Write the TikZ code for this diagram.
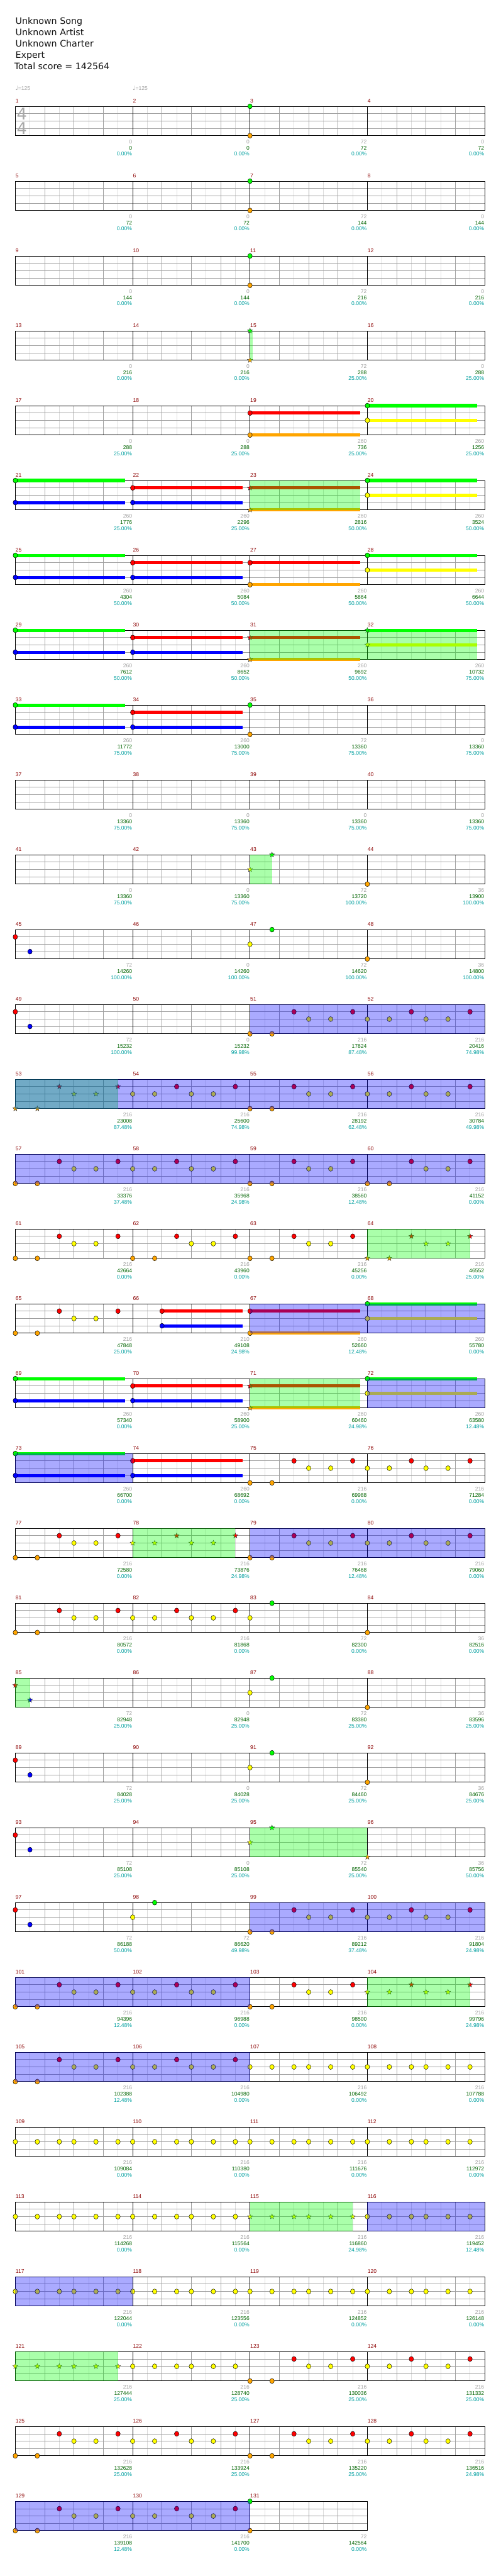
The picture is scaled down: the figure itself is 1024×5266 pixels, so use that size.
\documentclass[tikz,border=0pt]{standalone}
\usepackage{fontspec}
\setmainfont{DejaVu Sans}
\newfontfamily\labfont{Liberation Sans}
\usetikzlibrary{shapes.geometric}
\definecolor{L0}{HTML}{00FF00}
\definecolor{L1}{HTML}{FF0000}
\definecolor{L2}{HTML}{FFFF00}
\definecolor{L3}{HTML}{0000FF}
\definecolor{L4}{HTML}{FFA500}
\definecolor{mnumc}{HTML}{8B0000}
\definecolor{gnumc}{HTML}{A0A0A0}
\definecolor{snumc}{HTML}{006400}
\definecolor{pnumc}{HTML}{00A0A0}
\definecolor{lightgrid}{HTML}{DCDCDC}
\definecolor{midgrid}{HTML}{A0A0A0}
\definecolor{sigc}{HTML}{A8A8A8}
\definecolor{titlec}{HTML}{141414}
\tikzset{
  lab/.style={anchor=base east, inner sep=0pt, font=\labfont\fontsize{11}{11}\selectfont},
  mnum/.style={anchor=base west, inner sep=0pt, text=mnumc, font=\labfont\fontsize{11}{11}\selectfont},
  spstar/.style={star, star points=5, star point ratio=2.3, minimum size=11pt, inner sep=0pt, draw=black!80, line width=0.5pt},
  titletext/.style={anchor=base west, inner sep=0pt, text=titlec, font=\fontsize{18.3}{20}\selectfont},
  tempo/.style={anchor=base west, inner sep=0pt, text=gnumc},
}
\newcount\stc
\newcommand\Nt[2]{\filldraw[fill=L#2,draw=black,line width=0.6pt] ({(#1)*15},{#2*15}) ellipse [x radius=4.6, y radius=5.1];}
\newcommand\St[2]{\global\advance\stc by 1\relax\node[spstar,fill=L#2] (st\the\stc) at ({(#1)*15},{#2*15}) {};}
\newcommand\Su[3]{\fill[L#2] ({(#1)*15},{#2*15-3.3}) rectangle ++(#3,6.6);}
\newcommand\GO[2]{\fill[L0,opacity=0.333] (#1,0) rectangle (#2,60);}
\newcommand\BO[2]{\fill[L3,opacity=0.333] (#1,0) rectangle (#2,60);}
\newcommand\PatA[2][\Nt]{#1{#2}{4}#1{#2+3}{4}#1{#2+6}{1}#1{#2+8}{2}#1{#2+11}{2}#1{#2+14}{1}}
\newcommand\PatB[2][\Nt]{#1{#2}{2}#1{#2+3}{2}#1{#2+6}{1}#1{#2+8}{2}#1{#2+11}{2}#1{#2+14}{1}}
\newcommand\PatY[2][\Nt]{#1{#2}{2}#1{#2+3}{2}#1{#2+6}{2}#1{#2+8}{2}#1{#2+11}{2}#1{#2+14}{2}}
\newcommand\Staff[3]{%
  \foreach \i in {#2}{%
    \foreach \j in {1,3,5,7}{\draw[lightgrid,line width=0.8pt] (\i*240+\j*30,0) -- ++(0,60);}
    \foreach \j in {2,4,6}{\draw[midgrid,line width=0.8pt] (\i*240+\j*30,0) -- ++(0,60);}
    \pgfmathtruncatemacro\mm{4*#1+\i+1}
    \node[mnum] (mn\mm) at (\i*240+0.5,-7.3) {\mm};
  }
  \foreach \y in {15,30,45}{\draw[midgrid,line width=1.1pt] (0,\y) -- (#3*240,\y);}
  \foreach \i in {#2}{\ifnum\i>0 \draw[black,line width=0.8pt] (\i*240,0) -- ++(0,60);\fi}
  \draw[black,line width=1.3pt] (0,0) rectangle (#3*240,60);
}
\newcommand\Labels[2]{%
  \foreach \va/\vb/\vc [count=\cc] in {#2}{%
    \node[lab,text=gnumc] (ga#1-\cc) at (\cc*240-1,76) {\va};
    \node[lab,text=snumc] (gb#1-\cc) at (\cc*240-1,88.7) {\vb};
    \node[lab,text=pnumc] (gc#1-\cc) at (\cc*240-1,101.5) {\vc\%};
  }}
\newcommand\SusA{\Su{0}{0}{225}\Su{0}{3}{225}\Su{16}{1}{225}\Su{16}{3}{225}}
\newcommand\NtA{\Nt{0}{0}\Nt{0}{3}\Nt{16}{1}\Nt{16}{3}}
\begin{document}
\begin{tikzpicture}[x=1pt,y=-1pt]
\useasboundingbox (0,0) rectangle (1024,5266);
\fill[white] (0,0) rectangle (1024,5266);
\node[titletext] (t1) at (31.5,49.3) {Unknown Song};
\node[titletext] (t2) at (31.5,72.7) {Unknown Artist};
\node[titletext] (t3) at (31.5,96) {Unknown Charter};
\node[titletext] (t4) at (31.5,118.3) {Expert};
\node[titletext] (t5) at (29.3,141.7) {Total score = 142564};
\node[tempo] (tp1) at (31.3,184) {{\fontsize{12}{12}\selectfont ♩}{\labfont\fontsize{11}{11}\selectfont =125}};
\node[tempo] (tp2) at (271.3,184) {{\fontsize{12}{12}\selectfont ♩}{\labfont\fontsize{11}{11}\selectfont =125}};
% row 0
\begin{scope}[shift={(31.3,{217.3+153*0})}]
\Staff{0}{0,1,2,3}{4}
\node[text=sigc, font=\fontsize{33}{33}\selectfont, inner sep=0pt] (ts1) at (13.4,15.5) {4};
\node[text=sigc, font=\fontsize{33}{33}\selectfont, inner sep=0pt] (ts2) at (13.4,45.5) {4};
\Nt{32}{0}\Nt{32}{4}
\Labels{0}{0/0/0.00,0/0/0.00,72/72/0.00,0/72/0.00}
\end{scope}
% row 1
\begin{scope}[shift={(31.3,{217.3+153*1})}]
\Staff{1}{0,1,2,3}{4}
\Nt{32}{0}\Nt{32}{4}
\Labels{1}{0/72/0.00,0/72/0.00,72/144/0.00,0/144/0.00}
\end{scope}
% row 2
\begin{scope}[shift={(31.3,{217.3+153*2})}]
\Staff{2}{0,1,2,3}{4}
\Nt{32}{0}\Nt{32}{4}
\Labels{2}{0/144/0.00,0/144/0.00,72/216/0.00,0/216/0.00}
\end{scope}
% row 3
\begin{scope}[shift={(31.3,{217.3+153*3})}]
\Staff{3}{0,1,2,3}{4}
\St{32}{0}\St{32}{4}
\GO{480}{486}
\Labels{3}{0/216/0.00,0/216/0.00,72/288/25.00,0/288/25.00}
\end{scope}
% row 4
\begin{scope}[shift={(31.3,{217.3+153*4})}]
\Staff{4}{0,1,2,3}{4}
\Su{32}{1}{225}\Su{32}{4}{225}\Su{48}{0}{225}\Su{48}{2}{225}
\Nt{32}{1}\Nt{32}{4}\Nt{48}{0}\Nt{48}{2}
\Labels{4}{0/288/25.00,0/288/25.00,260/736/25.00,260/1256/25.00}
\end{scope}
% row 5
\begin{scope}[shift={(31.3,{217.3+153*5})}]
\Staff{5}{0,1,2,3}{4}
\SusA\Su{32}{1}{225}\Su{32}{4}{225}\Su{48}{0}{225}\Su{48}{2}{225}
\NtA\St{32}{1}\St{32}{4}\Nt{48}{0}\Nt{48}{2}
\GO{480}{705}
\Labels{5}{260/1776/25.00,260/2296/25.00,260/2816/50.00,260/3524/50.00}
\end{scope}
% row 6
\begin{scope}[shift={(31.3,{217.3+153*6})}]
\Staff{6}{0,1,2,3}{4}
\SusA\Su{32}{1}{225}\Su{32}{4}{225}\Su{48}{0}{225}\Su{48}{2}{225}
\NtA\Nt{32}{1}\Nt{32}{4}\Nt{48}{0}\Nt{48}{2}
\Labels{6}{260/4304/50.00,260/5084/50.00,260/5864/50.00,260/6644/50.00}
\end{scope}
% row 7
\begin{scope}[shift={(31.3,{217.3+153*7})}]
\Staff{7}{0,1,2,3}{4}
\SusA\Su{32}{1}{225}\Su{32}{4}{225}\Su{48}{0}{225}\Su{48}{2}{225}
\NtA\St{32}{1}\St{32}{4}\St{48}{0}\St{48}{2}
\GO{480}{945}
\Labels{7}{260/7612/50.00,260/8652/50.00,260/9692/50.00,260/10732/75.00}
\end{scope}
% row 8
\begin{scope}[shift={(31.3,{217.3+153*8})}]
\Staff{8}{0,1,2,3}{4}
\SusA
\NtA\Nt{32}{0}\Nt{32}{4}
\Labels{8}{260/11772/75.00,260/13000/75.00,72/13360/75.00,0/13360/75.00}
\end{scope}
% row 9
\begin{scope}[shift={(31.3,{217.3+153*9})}]
\Staff{9}{0,1,2,3}{4}
\Labels{9}{0/13360/75.00,0/13360/75.00,0/13360/75.00,0/13360/75.00}
\end{scope}
% row 10
\begin{scope}[shift={(31.3,{217.3+153*10})}]
\Staff{10}{0,1,2,3}{4}
\St{32}{2}\St{35}{0}\Nt{48}{4}
\GO{480}{525}
\Labels{10}{0/13360/75.00,0/13360/75.00,72/13720/100.00,36/13900/100.00}
\end{scope}
% row 11
\begin{scope}[shift={(31.3,{217.3+153*11})}]
\Staff{11}{0,1,2,3}{4}
\Nt{0}{1}\Nt{2}{3}\Nt{32}{2}\Nt{35}{0}\Nt{48}{4}
\Labels{11}{72/14260/100.00,0/14260/100.00,72/14620/100.00,36/14800/100.00}
\end{scope}
% row 12
\begin{scope}[shift={(31.3,{217.3+153*12})}]
\Staff{12}{0,1,2,3}{4}
\Nt{0}{1}\Nt{2}{3}\PatA{32}\PatB{48}
\BO{480}{960}
\Labels{12}{72/15232/100.00,0/15232/99.98,216/17824/87.48,216/20416/74.98}
\end{scope}
% row 13
\begin{scope}[shift={(31.3,{217.3+153*13})}]
\Staff{13}{0,1,2,3}{4}
\PatA[\St]{0}\PatB{16}\PatA{32}\PatB{48}
\GO{0}{210}\BO{0}{960}
\Labels{13}{216/23008/87.48,216/25600/74.98,216/28192/62.48,216/30784/49.98}
\end{scope}
% row 14
\begin{scope}[shift={(31.3,{217.3+153*14})}]
\Staff{14}{0,1,2,3}{4}
\PatA{0}\PatB{16}\PatA{32}\PatA{48}
\BO{0}{960}
\Labels{14}{216/33376/37.48,216/35968/24.98,216/38560/12.48,216/41152/0.00}
\end{scope}
% row 15
\begin{scope}[shift={(31.3,{217.3+153*15})}]
\Staff{15}{0,1,2,3}{4}
\PatA{0}\PatA{16}\PatA{32}\PatA[\St]{48}
\GO{720}{930}
\Labels{15}{216/42664/0.00,216/43960/0.00,216/45256/0.00,216/46552/25.00}
\end{scope}
% row 16
\begin{scope}[shift={(31.3,{217.3+153*16})}]
\Staff{16}{0,1,2,3}{4}
\Su{20}{1}{165}\Su{20}{3}{165}\Su{32}{1}{225}\Su{32}{4}{225}\Su{48}{0}{225}\Su{48}{2}{225}
\PatA{0}\Nt{20}{1}\Nt{20}{3}\Nt{32}{1}\Nt{32}{4}\Nt{48}{0}\Nt{48}{2}
\BO{480}{960}
\Labels{16}{216/47848/25.00,210/49108/24.98,260/52660/12.48,260/55780/0.00}
\end{scope}
% row 17
\begin{scope}[shift={(31.3,{217.3+153*17})}]
\Staff{17}{0,1,2,3}{4}
\SusA\Su{32}{1}{225}\Su{32}{4}{225}\Su{48}{0}{225}\Su{48}{2}{225}
\NtA\St{32}{1}\St{32}{4}\Nt{48}{0}\Nt{48}{2}
\GO{480}{705}\BO{720}{960}
\Labels{17}{260/57340/0.00,260/58900/25.00,260/60460/24.98,260/63580/12.48}
\end{scope}
% row 18
\begin{scope}[shift={(31.3,{217.3+153*18})}]
\Staff{18}{0,1,2,3}{4}
\SusA
\NtA\PatA{32}\PatB{48}
\BO{0}{240}
\Labels{18}{260/66700/0.00,260/68692/0.00,216/69988/0.00,216/71284/0.00}
\end{scope}
% row 19
\begin{scope}[shift={(31.3,{217.3+153*19})}]
\Staff{19}{0,1,2,3}{4}
\PatA{0}\PatB[\St]{16}\PatA{32}\PatB{48}
\GO{240}{450}\BO{480}{960}
\Labels{19}{216/72580/0.00,216/73876/24.98,216/76468/12.48,216/79060/0.00}
\end{scope}
% row 20
\begin{scope}[shift={(31.3,{217.3+153*20})}]
\Staff{20}{0,1,2,3}{4}
\PatA{0}\PatB{16}\Nt{32}{2}\Nt{35}{0}\Nt{48}{4}
\Labels{20}{216/80572/0.00,216/81868/0.00,72/82300/0.00,36/82516/0.00}
\end{scope}
% row 21
\begin{scope}[shift={(31.3,{217.3+153*21})}]
\Staff{21}{0,1,2,3}{4}
\St{0}{1}\St{2}{3}\Nt{32}{2}\Nt{35}{0}\Nt{48}{4}
\GO{0}{30}
\Labels{21}{72/82948/25.00,0/82948/25.00,72/83380/25.00,36/83596/25.00}
\end{scope}
% row 22
\begin{scope}[shift={(31.3,{217.3+153*22})}]
\Staff{22}{0,1,2,3}{4}
\Nt{0}{1}\Nt{2}{3}\Nt{32}{2}\Nt{35}{0}\Nt{48}{4}
\Labels{22}{72/84028/25.00,0/84028/25.00,72/84460/25.00,36/84676/25.00}
\end{scope}
% row 23
\begin{scope}[shift={(31.3,{217.3+153*23})}]
\Staff{23}{0,1,2,3}{4}
\Nt{0}{1}\Nt{2}{3}\St{32}{2}\St{35}{0}\St{48}{4}
\GO{480}{720}
\Labels{23}{72/85108/25.00,0/85108/25.00,72/85540/25.00,36/85756/50.00}
\end{scope}
% row 24
\begin{scope}[shift={(31.3,{217.3+153*24})}]
\Staff{24}{0,1,2,3}{4}
\Nt{0}{1}\Nt{2}{3}\Nt{16}{2}\Nt{19}{0}\PatA{32}\PatB{48}
\BO{480}{960}
\Labels{24}{72/86188/50.00,72/86620/49.98,216/89212/37.48,216/91804/24.98}
\end{scope}
% row 25
\begin{scope}[shift={(31.3,{217.3+153*25})}]
\Staff{25}{0,1,2,3}{4}
\PatA{0}\PatB{16}\PatA{32}\PatB[\St]{48}
\GO{720}{930}\BO{0}{480}
\Labels{25}{216/94396/12.48,216/96988/0.00,216/98500/0.00,216/99796/24.98}
\end{scope}
% row 26
\begin{scope}[shift={(31.3,{217.3+153*26})}]
\Staff{26}{0,1,2,3}{4}
\PatA{0}\PatB{16}\PatY{32}\PatY{48}
\BO{0}{480}
\Labels{26}{216/102388/12.48,216/104980/0.00,216/106492/0.00,216/107788/0.00}
\end{scope}
% row 27
\begin{scope}[shift={(31.3,{217.3+153*27})}]
\Staff{27}{0,1,2,3}{4}
\PatY{0}\PatY{16}\PatY{32}\PatY{48}
\Labels{27}{216/109084/0.00,216/110380/0.00,216/111676/0.00,216/112972/0.00}
\end{scope}
% row 28
\begin{scope}[shift={(31.3,{217.3+153*28})}]
\Staff{28}{0,1,2,3}{4}
\PatY{0}\PatY{16}\PatY[\St]{32}\PatY{48}
\GO{480}{690}\BO{720}{960}
\Labels{28}{216/114268/0.00,216/115564/0.00,216/116860/24.98,216/119452/12.48}
\end{scope}
% row 29
\begin{scope}[shift={(31.3,{217.3+153*29})}]
\Staff{29}{0,1,2,3}{4}
\PatY{0}\PatY{16}\PatY{32}\PatY{48}
\BO{0}{240}
\Labels{29}{216/122044/0.00,216/123556/0.00,216/124852/0.00,216/126148/0.00}
\end{scope}
% row 30
\begin{scope}[shift={(31.3,{217.3+153*30})}]
\Staff{30}{0,1,2,3}{4}
\PatY[\St]{0}\PatY{16}\PatA{32}\PatB{48}
\GO{0}{210}
\Labels{30}{216/127444/25.00,216/128740/25.00,216/130036/25.00,216/131332/25.00}
\end{scope}
% row 31
\begin{scope}[shift={(31.3,{217.3+153*31})}]
\Staff{31}{0,1,2,3}{4}
\PatA{0}\PatB{16}\PatA{32}\PatB{48}
\Labels{31}{216/132628/25.00,216/133924/25.00,216/135220/25.00,216/136516/24.98}
\end{scope}
% row 32
\begin{scope}[shift={(31.3,{217.3+153*32})}]
\Staff{32}{0,1,2}{3}
\PatA{0}\PatB{16}\Nt{32}{0}\Nt{32}{4}
\BO{0}{480}
\Labels{32}{216/139108/12.48,216/141700/0.00,72/142564/0.00}
\end{scope}
\end{tikzpicture}
\end{document}
